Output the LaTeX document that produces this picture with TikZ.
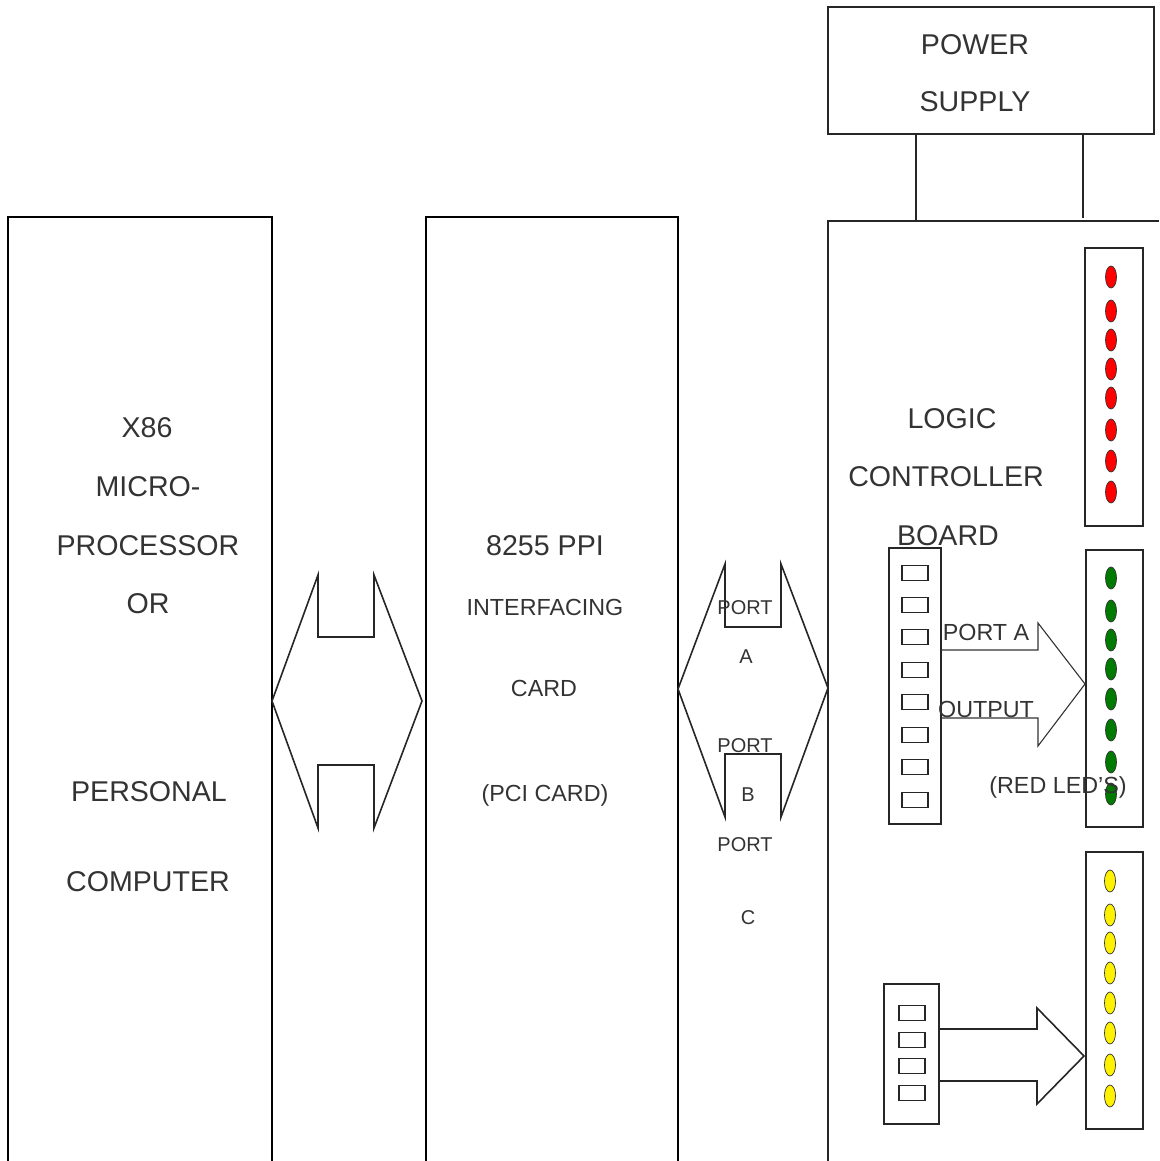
\documentclass[tikz,border=0pt]{standalone}
\usepackage{fontspec}
\setmainfont{Liberation Sans}
\definecolor{txt}{HTML}{333333}
\definecolor{ledgreen}{HTML}{007A00}
\tikzset{
  frame/.style={line width=2.8pt, black},
  thin/.style={line width=1.6pt, black!85},
  big/.style={text=txt, font=\fontsize{28.6}{32}\selectfont, inner sep=0pt},
  mid/.style={text=txt, font=\fontsize{23.3}{27}\selectfont, inner sep=0pt},
  small/.style={text=txt, font=\fontsize{20}{24}\selectfont, inner sep=0pt},
  panel/.style={draw=black!85, line width=1.6pt, inner sep=0pt},
  sw/.style={draw=black!85, line width=1.8pt, minimum width=26pt, minimum height=15pt, inner sep=0pt},
  led/.style={draw=black!80, line width=0.7pt, ellipse, minimum width=11pt, minimum height=22pt, inner sep=0pt},
}
\usetikzlibrary{shapes.geometric}
\begin{document}
\begin{tikzpicture}[x=1pt,y=-1pt]
\useasboundingbox (0,0) rectangle (1159,1161);
% main open boxes
\draw[frame] (8,1161) -- (8,217) -- (272,217) -- (272,1161);
\draw[frame] (426,1161) -- (426,217) -- (678,217) -- (678,1161);
\draw[thin] (828,1161) -- (828,221) -- (1159,221);
% power supply
\node[panel, minimum width=326pt, minimum height=127pt] (ps) at (991,70.5) {};
\node[big] (pw) at (975,45) {POWER};
\node[big] (sp) at (975,102) {SUPPLY};
\coordinate (b1) at (916,221);
\coordinate (b2) at (1083,218);
\draw[thin] (ps.south -| b1) -- (b1);
\draw[thin] (ps.south -| b2) -- (b2);
% double arrow 1
\draw[thin, line join=miter] (272,701) -- (318,575) -- (318,637) -- (374,637) -- (374,575) -- (422,701)
  -- (374,828) -- (374,765) -- (318,765) -- (318,828) -- cycle;
% double arrow 2
\draw[thin, line join=miter] (678,689) -- (725,564) -- (725,627) -- (781,627) -- (781,564) -- (828,688)
  -- (781,817) -- (781,754) -- (725,754) -- (725,817) -- cycle;
% left texts
\node[big] (t1) at (147,428) {X86};
\node[big] (t2) at (148,487) {MICRO-};
\node[big] (t3) at (148,546) {PROCESSOR};
\node[big] (t4) at (148,604) {OR};
\node[big] (t5) at (149,792) {PERSONAL};
\node[big] (t6) at (148,882) {COMPUTER};
% middle texts
\node[big] (m1) at (545,546) {8255 PPI};
\node[mid] (m2) at (545,607) {INTERFACING};
\node[mid] (m3) at (544,688) {CARD};
\node[mid] (m4) at (545,795) {(PCI CARD)};
% port texts
\node[small] (p1) at (745,608) {PORT};
\node[small] (p2) at (746,657) {A};
\node[small] (p3) at (745,746) {PORT};
\node[small] (p4) at (748,795) {B};
\node[small] (p5) at (745,845) {PORT};
\node[small] (p6) at (748,918) {C};
% logic board texts
\node[big] (l1) at (952,419) {LOGIC};
\node[big] (l2) at (946,477) {CONTROLLER};
\node[big] (l3) at (948,536) {BOARD};
% LED panels
\node[panel, minimum width=58pt, minimum height=278pt] (redp) at (1114,387) {};
\node[panel, minimum width=57pt, minimum height=277pt] (grnp) at (1114.5,688.5) {};
\node[panel, minimum width=57pt, minimum height=277pt] (yelp) at (1114.5,990.5) {};
\foreach \y [count=\i] in {277,311,340,369,398,430,461,492}
  \node[led, fill=red] (r\i) at (1111,\y) {};
\foreach \y [count=\i] in {578,611,640,669,699,730,762,794}
  \node[led, fill=ledgreen] (g\i) at (1111,\y) {};
\foreach \y [count=\i] in {881,915,943,973,1003,1033,1065,1096}
  \node[led, fill=yellow] (y\i) at (1110,\y) {};
% switch panels
\node[panel, minimum width=52pt, minimum height=276pt] (swp1) at (915,686) {};
\foreach \y [count=\i] in {573,605,637,670,702,735,767,800}
  \node[sw] (s\i) at (915,\y) {};
\node[panel, minimum width=55pt, minimum height=140pt] (swp2) at (911.5,1054) {};
\foreach \y [count=\i] in {1013,1040,1066,1093}
  \node[sw] (u\i) at (912,\y) {};
% block arrows
\draw[line width=1.1pt, black!80, line join=miter] (941,650) -- (1038,650) -- (1038,623) -- (1085,684) -- (1038,746) -- (1038,718) -- (941,718);
\draw[line width=1.6pt, black!85, line join=miter] (939,1029) -- (1037,1029) -- (1037,1008) -- (1084,1056) -- (1037,1104) -- (1037,1081) -- (939,1081);
% arrow texts
\node[mid] (a1) at (986,632) {PORT A};
\node[mid] (a2) at (986,709) {OUTPUT};
\node[mid] (a3) at (1058,787) {(RED LED'S)};
\end{tikzpicture}
\end{document}
